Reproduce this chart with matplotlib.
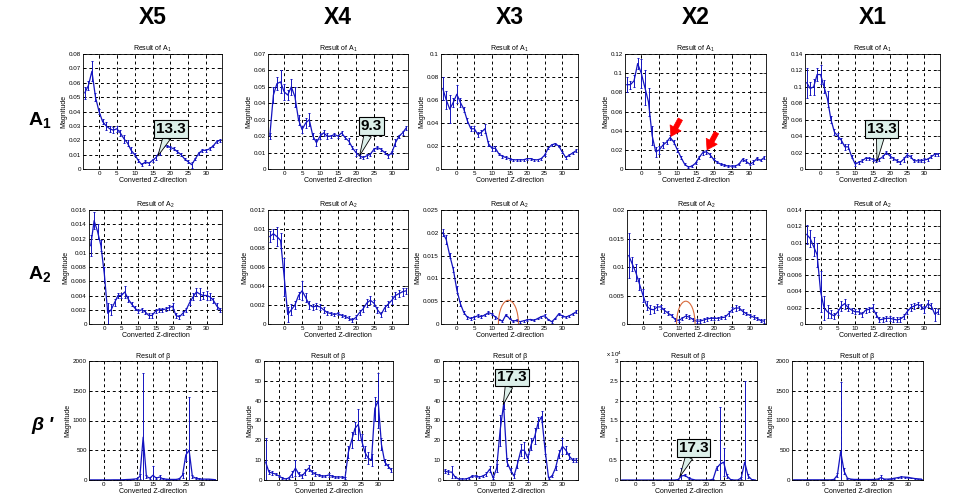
import matplotlib
matplotlib.use("Agg")
import matplotlib.pyplot as plt
from matplotlib.patches import Ellipse
from matplotlib.ticker import FuncFormatter
import numpy as np

plt.rcParams['font.family'] = ['Liberation Sans', 'DejaVu Sans']
plt.rcParams['mathtext.fontset'] = 'custom'
plt.rcParams['mathtext.rm'] = 'Liberation Sans'
plt.rcParams['mathtext.it'] = 'Liberation Sans:italic'
plt.rcParams['mathtext.bf'] = 'Liberation Sans:bold'

# converted Z-direction positions (shared by every panel)
z = list(range(-4, 35))
cols = ['X5', 'X4', 'X3', 'X2', 'X1']

# ---- Result of A1 ----
a1_x5 = [0.053,0.058,0.068,0.050,0.040,0.033,0.030,0.028,0.027,0.028,0.025,0.021,0.018,0.013,0.010,0.006,0.003,0.005,0.004,0.006,
         0.008,0.012,0.016,0.016,0.015,0.014,0.012,0.010,0.007,0.005,0.003,0.007,0.011,0.013,0.013,0.014,0.016,0.019,0.020]
a1_x5_err = [0.004,0.003,0.007,0.003,0.002,0.002,0.003,0.002,0.002,0.002,0.002,0.003,0.002,0.002,0.001,0.001,0.001,0.001,0.001,0.001,
             0.002,0.002,0.001,0.001,0.001,0.001,0.001,0.001,0.001,0.001,0.002,0.001,0.001,0.001,0.001,0.001,0.001,0.001,0.001]
a1_x4 = [0.020,0.045,0.052,0.053,0.047,0.045,0.050,0.044,0.030,0.024,0.028,0.030,0.020,0.016,0.020,0.022,0.020,0.020,0.021,0.020,
         0.022,0.019,0.017,0.013,0.010,0.008,0.007,0.008,0.009,0.012,0.013,0.012,0.010,0.008,0.010,0.016,0.020,0.022,0.025]
a1_x4_err = [0.002,0.005,0.004,0.007,0.005,0.003,0.005,0.006,0.003,0.002,0.003,0.004,0.002,0.002,0.002,0.002,0.002,0.001,0.001,0.001,
             0.001,0.001,0.002,0.001,0.002,0.001,0.001,0.001,0.001,0.001,0.001,0.001,0.001,0.001,0.001,0.002,0.001,0.001,0.001]
a1_x3 = [0.070,0.060,0.052,0.058,0.065,0.058,0.052,0.042,0.035,0.035,0.030,0.032,0.035,0.022,0.018,0.018,0.013,0.011,0.010,0.009,
         0.008,0.008,0.008,0.008,0.009,0.009,0.008,0.008,0.009,0.012,0.018,0.021,0.022,0.020,0.015,0.010,0.012,0.014,0.016]
a1_x3_err = [0.010,0.008,0.012,0.004,0.008,0.004,0.002,0.002,0.002,0.002,0.002,0.002,0.004,0.002,0.002,0.002,0.001,0.001,0.001,0.001,
             0.001,0.001,0.001,0.001,0.001,0.001,0.001,0.001,0.001,0.001,0.001,0.001,0.001,0.001,0.001,0.001,0.001,0.001,0.001]
a1_x2 = [0.088,0.088,0.092,0.110,0.100,0.085,0.070,0.035,0.018,0.020,0.025,0.028,0.033,0.028,0.020,0.012,0.005,0.002,0.003,0.006,
         0.012,0.017,0.018,0.015,0.010,0.007,0.005,0.004,0.003,0.003,0.003,0.005,0.010,0.008,0.005,0.007,0.011,0.009,0.012]
a1_x2_err = [0.008,0.004,0.006,0.006,0.015,0.018,0.015,0.010,0.005,0.004,0.003,0.002,0.003,0.002,0.002,0.002,0.001,0.001,0.001,0.001,
             0.002,0.002,0.002,0.002,0.001,0.001,0.001,0.001,0.001,0.001,0.001,0.001,0.002,0.002,0.001,0.002,0.002,0.001,0.002]
a1_x1 = [0.105,0.098,0.100,0.115,0.115,0.100,0.085,0.060,0.045,0.040,0.035,0.027,0.027,0.015,0.006,0.008,0.010,0.013,0.013,0.012,
         0.010,0.012,0.015,0.020,0.016,0.013,0.010,0.008,0.012,0.017,0.015,0.010,0.010,0.010,0.011,0.012,0.015,0.018,0.018]
a1_x1_err = [0.018,0.008,0.010,0.008,0.012,0.008,0.010,0.004,0.004,0.004,0.003,0.004,0.003,0.002,0.002,0.002,0.002,0.002,0.002,0.002,
             0.002,0.002,0.002,0.002,0.002,0.002,0.002,0.002,0.003,0.002,0.002,0.002,0.002,0.002,0.002,0.002,0.002,0.002,0.002]

# ---- Result of A2 ----
a2_x5 = [0.0110,0.0145,0.0130,0.0110,0.0070,0.0015,0.0020,0.0030,0.0040,0.0040,0.0045,0.0035,0.0028,0.0022,0.0018,0.0020,0.0017,0.0012,0.0012,0.0018,
         0.0020,0.0020,0.0021,0.0023,0.0025,0.0012,0.0010,0.0015,0.0020,0.0030,0.0038,0.0045,0.0042,0.0040,0.0040,0.0038,0.0033,0.0025,0.0020]
a2_x5_err = [0.0015,0.0012,0.0010,0.0008,0.0010,0.0015,0.0008,0.0005,0.0004,0.0004,0.0008,0.0004,0.0003,0.0003,0.0003,0.0003,0.0003,0.0003,0.0003,0.0003,
             0.0003,0.0003,0.0003,0.0004,0.0004,0.0004,0.0003,0.0003,0.0003,0.0004,0.0005,0.0006,0.0008,0.0005,0.0006,0.0005,0.0004,0.0004,0.0003]
a2_x4 = [0.0092,0.0095,0.0092,0.0088,0.0050,0.0010,0.0015,0.0020,0.0030,0.0035,0.0028,0.0020,0.0018,0.0019,0.0018,0.0015,0.0012,0.0011,0.0010,0.0011,
         0.0009,0.0008,0.0006,0.0004,0.0007,0.0012,0.0016,0.0022,0.0025,0.0022,0.0015,0.0010,0.0017,0.0021,0.0025,0.0030,0.0032,0.0034,0.0035]
a2_x4_err = [0.0006,0.0005,0.0010,0.0008,0.0020,0.0008,0.0006,0.0004,0.0004,0.0010,0.0005,0.0004,0.0003,0.0003,0.0003,0.0003,0.0002,0.0002,0.0002,0.0002,
             0.0002,0.0002,0.0002,0.0002,0.0002,0.0003,0.0003,0.0004,0.0004,0.0003,0.0003,0.0003,0.0003,0.0003,0.0004,0.0004,0.0004,0.0004,0.0003]
a2_x3 = [0.0200,0.0185,0.0150,0.0120,0.0075,0.0045,0.0025,0.0015,0.0012,0.0015,0.0018,0.0016,0.0020,0.0025,0.0022,0.0015,0.0010,0.0006,0.0020,0.0012,
         0.0006,0.0008,0.0005,0.0007,0.0009,0.0010,0.0008,0.0012,0.0016,0.0018,0.0010,0.0005,0.0012,0.0022,0.0018,0.0015,0.0018,0.0022,0.0027]
a2_x3_err = [0.0008,0.0010,0.0006,0.0006,0.0008,0.0005,0.0004,0.0003,0.0003,0.0003,0.0003,0.0003,0.0003,0.0003,0.0003,0.0003,0.0002,0.0002,0.0003,0.0002,
             0.0002,0.0002,0.0002,0.0002,0.0002,0.0002,0.0002,0.0002,0.0002,0.0003,0.0002,0.0002,0.0002,0.0003,0.0002,0.0002,0.0002,0.0002,0.0003]
a2_x2 = [0.0120,0.0105,0.0090,0.0070,0.0050,0.0032,0.0026,0.0025,0.0030,0.0030,0.0024,0.0019,0.0015,0.0008,0.0006,0.0010,0.0014,0.0012,0.0008,0.0005,
         0.0005,0.0007,0.0009,0.0010,0.0010,0.0010,0.0011,0.0012,0.0018,0.0025,0.0028,0.0028,0.0022,0.0018,0.0015,0.0012,0.0010,0.0006,0.0005]
a2_x2_err = [0.0040,0.0012,0.0015,0.0010,0.0012,0.0008,0.0008,0.0006,0.0005,0.0004,0.0004,0.0003,0.0003,0.0003,0.0003,0.0003,0.0003,0.0003,0.0003,0.0003,
             0.0003,0.0003,0.0003,0.0003,0.0003,0.0003,0.0003,0.0003,0.0004,0.0004,0.0005,0.0004,0.0004,0.0003,0.0003,0.0003,0.0003,0.0003,0.0003]
a2_x1 = [0.0110,0.0105,0.0095,0.0085,0.0040,0.0020,0.0015,0.0012,0.0010,0.0015,0.0022,0.0025,0.0020,0.0017,0.0015,0.0015,0.0012,0.0017,0.0018,0.0020,
         0.0012,0.0005,0.0006,0.0007,0.0007,0.0006,0.0005,0.0006,0.0009,0.0015,0.0020,0.0022,0.0024,0.0022,0.0018,0.0025,0.0022,0.0012,0.0015]
a2_x1_err = [0.0012,0.0010,0.0012,0.0015,0.0025,0.0015,0.0008,0.0005,0.0004,0.0004,0.0006,0.0006,0.0004,0.0003,0.0003,0.0003,0.0003,0.0003,0.0003,0.0004,
             0.0003,0.0003,0.0003,0.0003,0.0003,0.0003,0.0003,0.0003,0.0003,0.0003,0.0004,0.0004,0.0003,0.0003,0.0004,0.0004,0.0004,0.0008,0.0003]

# ---- Result of beta ----
b_x5 = [2,2,2,2,2,2,2,3,3,3,5,8,10,15,20,60,720,60,30,80,
        30,50,20,15,10,10,10,20,80,420,500,60,30,20,15,15,15,10,5]
b_x5_err = [1,1,1,1,1,1,1,2,2,2,3,4,5,6,8,40,1080,30,15,150,
            15,30,10,8,5,5,5,10,40,100,900,30,15,10,8,8,8,5,3]
b_x4 = [9,4,3.5,3,2,1,0.5,1,3,6,3,2,4,6,4,3,2.5,2,2,2.5,
        2,1.5,1.5,1.5,1,14,20,26,28,20,14,11,10,36,40,18,9,7,5]
b_x4_err = [12,1,1,0.5,0.5,0.5,0.3,0.5,1.5,4,1,1,1.5,1.5,1,0.8,0.6,0.6,0.5,0.8,
            0.6,0.5,0.5,0.5,0.5,3,4,3,8,3,3,3,3,6,14,3,1.5,1,0.8]
b_x3 = [4.5,4,4,1.5,0.5,0.5,0.5,1,2,2,1.5,2,3,5.5,1,6,25,38,9,5,
        2,8,15,15,11,18,22,29,32,15,1,2,6,13,17,15,12,10,10]
b_x3_err = [1,1,3,0.5,0.3,0.3,0.3,0.3,0.5,0.5,0.5,0.5,1,1.5,0.5,2,8,2,2,1,
            1,2,3,4,2,3,4,3,3,2,0.5,0.5,1,2,4,2,1.5,1,1]
# X2 beta in units of 10^4
b_x2 = [0,0,0,0,0,0,0,0,0,0,0,0,0,0,0,0,0.01,0.1,0.12,0.05,
        0.02,0,0,0,0,0,0.02,0.3,0.4,0.45,0.1,0.01,0,0,0.05,0.45,0.1,0.01,0]
b_x2_err = [0,0,0,0,0,0,0,0,0,0,0,0,0,0,0,0,0.01,0.2,0.03,0.02,
            0.01,0,0,0,0,0,0.01,0.05,1.45,0.35,0.05,0.01,0,0,0.02,2.05,0.05,0.01,0]
b_x1 = [3,3,3,3,3,3,3,3,3,3,3,3,10,80,480,150,30,15,10,10,
        8,8,8,8,10,15,40,15,15,20,30,40,50,50,45,35,25,20,15]
b_x1_err = [1,1,1,1,1,1,1,1,1,1,1,1,5,30,1170,50,10,5,3,3,
            2,2,2,2,3,5,40,5,5,5,8,8,10,8,8,6,5,4,3]

# (top, step) of the y axis for each panel
a1_ylim = [(0.08, 0.01), (0.07, 0.01), (0.1, 0.02), (0.12, 0.02), (0.14, 0.02)]
a2_ylim = [(0.016, 0.002), (0.012, 0.002), (0.025, 0.005), (0.02, 0.005), (0.014, 0.002)]
b_ylim = [(2000, 500), (60, 10), (60, 10), (3, 0.5), (2000, 500)]

rows = [
    ('Result of A$_1$', [a1_x5, a1_x4, a1_x3, a1_x2, a1_x1],
     [a1_x5_err, a1_x4_err, a1_x3_err, a1_x2_err, a1_x1_err], a1_ylim),
    ('Result of A$_2$', [a2_x5, a2_x4, a2_x3, a2_x2, a2_x1],
     [a2_x5_err, a2_x4_err, a2_x3_err, a2_x2_err, a2_x1_err], a2_ylim),
    ('Result of β', [b_x5, b_x4, b_x3, b_x2, b_x1],
     [b_x5_err, b_x4_err, b_x3_err, b_x2_err, b_x1_err], b_ylim),
]

W, H = 960, 497
# subplot boxes in pixels: left, top, right, bottom
boxes = [
    [(83, 54, 222, 169), (268, 54, 408, 169), (441, 54, 578, 169), (625, 54, 766, 169), (805, 54, 940, 169)],
    [(89, 210, 222, 324), (268, 210, 408, 324), (441, 210, 578, 324), (627, 210, 766, 324), (805, 210, 940, 324)],
    [(89, 361, 217, 480), (264, 361, 393, 480), (443, 361, 578, 480), (620, 361, 757, 480), (792, 361, 923, 480)],
]

BLUE = '#1414c0'
fig = plt.figure(figsize=(9.6, 4.97), dpi=100)
fmt = FuncFormatter(lambda v, p: '%g' % round(v, 6))
axs = {}
for r, (title, vals, errs, lims) in enumerate(rows):
    for c in range(5):
        l, t, rr, b = boxes[r][c]
        ax = fig.add_axes([l / W, 1 - b / H, (rr - l) / W, (b - t) / H])
        ax.errorbar(z, vals[c], yerr=errs[c], color=BLUE, lw=0.9,
                    elinewidth=0.7, capsize=1.0, capthick=0.7)
        top, step = lims[c]
        ax.set_xlim(-4.5, 34.5)
        ax.set_xticks(range(0, 31, 5))
        ax.set_ylim(0, top)
        ax.set_yticks(np.linspace(0, top, int(round(top / step)) + 1))
        ax.yaxis.set_major_formatter(fmt)
        ax.grid(True, color='k', linestyle=(0, (3, 3)), lw=0.7)
        ax.tick_params(direction='in', length=2, width=0.5, labelsize=4.5, pad=1.5,
                       top=True, right=True)
        for s in ax.spines.values():
            s.set_linewidth(0.6)
        ax.set_title(title, fontsize=5, pad=2.5)
        ax.set_ylabel('Magnitude', fontsize=5, labelpad=1)
        ax.set_xlabel('Converted Z-direction', fontsize=5, labelpad=0.5)
        axs[r, c] = ax

# column headers and row labels
for c in range(5):
    l, t, rr, b = boxes[0][c]
    fig.text((l + rr) / 2 / W, 1 - 18 / H, cols[c], ha='center', va='center',
             fontsize=16.5, fontweight='bold')
fig.text(40 / W, 1 - 120 / H, r'$\mathbf{A}_\mathbf{1}$', ha='center', va='center', fontsize=14)
fig.text(40 / W, 1 - 274 / H, r'$\mathbf{A}_\mathbf{2}$', ha='center', va='center', fontsize=14)
fig.text(42 / W, 1 - 425 / H, "β '", ha='center', va='center', fontsize=14,
         fontweight='bold', fontstyle='italic')

# x10^4 multiplier for the beta X2 panel
fig.text(606 / W, 1 - 354 / H, r'x 10$^4$', ha='left', va='center', fontsize=4.5)

TIP_BG = '#dcefe9'


def callout(ax, txt, tip, pos):
    ax.annotate(txt, xy=tip, xytext=pos, ha='center', va='center',
                fontsize=11, fontweight='bold', zorder=6,
                bbox=dict(boxstyle='square,pad=0.12', fc=TIP_BG, ec='k', lw=0.8),
                arrowprops=dict(arrowstyle='wedge,tail_width=0.5,shrink_factor=0.5',
                                fc=TIP_BG, ec='k', lw=0.6, shrinkA=0, shrinkB=0))


callout(axs[0, 0], '13.3', (16.5, 0.009), (20.2, 0.028))
callout(axs[0, 1], '9.3', (21, 0.008), (24.3, 0.026))
callout(axs[0, 4], '13.3', (16.3, 0.009), (17.6, 0.049))
callout(axs[2, 2], '17.3', (12.9, 38), (15.4, 51.7))
callout(axs[2, 3], '17.3', (12.5, 0.08), (16.4, 0.8))

# red arrows on A1 / X2
for tip, tail in [((8.2, 0.034), (10.8, 0.052)), ((18.2, 0.020), (20.8, 0.038))]:
    axs[0, 3].annotate('', xy=tip, xytext=tail, zorder=6,
                       arrowprops=dict(arrowstyle='simple,head_width=0.9,head_length=0.7,tail_width=0.35',
                                       fc='red', ec='red', lw=0.5, shrinkA=0, shrinkB=0))

# orange circles on A2 / X3 and X2
axs[1, 2].add_patch(Ellipse((14.7, 0), 5.7, 0.0104, fill=False, ec='#d86a3c', lw=0.8, zorder=5))
axs[1, 3].add_patch(Ellipse((12.0, 0), 5.2, 0.0080, fill=False, ec='#d86a3c', lw=0.8, zorder=5))

fig.savefig('out.png', dpi=100, facecolor='white')
